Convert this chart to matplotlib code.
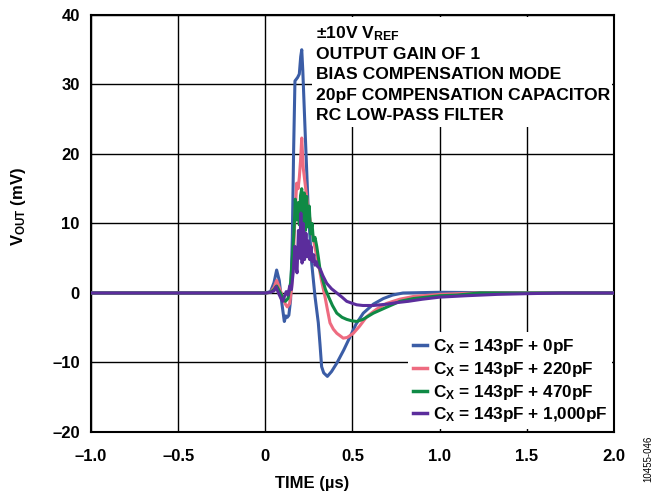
import matplotlib
matplotlib.use("Agg")
import matplotlib.pyplot as plt
from matplotlib.patches import Rectangle

plt.rcParams['font.family'] = ['Liberation Sans', 'DejaVu Sans']
plt.rcParams['font.weight'] = 'bold'
plt.rcParams['mathtext.fontset'] = 'custom'
plt.rcParams['mathtext.rm'] = 'Liberation Sans:bold'
plt.rcParams['mathtext.it'] = 'Liberation Sans:bold'
plt.rcParams['mathtext.bf'] = 'Liberation Sans:bold'

# ---- data (time in µs, VOUT in mV) ----
t_blue = [-1.0, 0.0, 0.03, 0.05, 0.065, 0.08, 0.095, 0.109, 0.118, 0.126, 0.135, 0.145, 0.155, 0.162,
          0.17, 0.185, 0.195, 0.203, 0.209, 0.215, 0.228, 0.247, 0.266, 0.285, 0.304, 0.314, 0.323,
          0.335, 0.356, 0.38, 0.41, 0.45, 0.486, 0.52, 0.562, 0.62, 0.677, 0.73, 0.79, 1.0, 1.5, 2.0]
v_blue = [0, 0, 0.2, 1.5, 3.3, 1.8, -1.5, -4.1, -3.3, -3.5, -3.2, -1.0, 8, 20,
          30.5, 31, 31.5, 34, 35, 32, 23.5, 11.5, 4.3, -0.5, -4.3, -7.5, -10.6,
          -11.5, -12, -11.3, -10.1, -8.2, -6.3, -4.5, -2.9, -1.6, -0.8, -0.3, 0, 0.1, 0, 0]

t_pink = [-1.0, 0.0, 0.03, 0.05, 0.065, 0.08, 0.1, 0.115, 0.126, 0.14, 0.15, 0.16, 0.17, 0.18, 0.188,
          0.195, 0.202, 0.209, 0.218, 0.227, 0.237, 0.25, 0.266, 0.285, 0.304, 0.322, 0.342, 0.357,
          0.371, 0.39, 0.41, 0.447, 0.47, 0.505, 0.54, 0.582, 0.64, 0.696, 0.77, 0.85, 1.0, 1.2, 2.0]
v_pink = [0, 0, 0.1, 0.8, 1.8, 0.8, -0.6, -1.6, -2.0, -1.5, 0.5, 4.3, 11, 15.8, 15,
          16.6, 19, 22.3, 17.9, 16, 13.9, 11.5, 9.1, 6.5, 4.3, 1.8, -0.5, -2.5,
          -4.3, -5.2, -5.8, -6.5, -6.4, -5.8, -4.8, -3.4, -2.3, -1.5, -0.9, -0.5, -0.2, 0, 0]

t_green = [-1.0, 0.0, 0.03, 0.05, 0.065, 0.08, 0.1, 0.115, 0.13, 0.145, 0.155, 0.165, 0.172, 0.18,
           0.188, 0.195, 0.202, 0.209, 0.216, 0.223, 0.23, 0.237, 0.245, 0.252, 0.26, 0.268, 0.276,
           0.285, 0.295, 0.305, 0.314, 0.33, 0.345, 0.362, 0.385, 0.41, 0.44, 0.467, 0.495, 0.524,
           0.56, 0.62, 0.7, 0.773, 0.85, 1.0, 1.1, 1.23, 2.0]
v_green = [0, 0, 0.1, 0.5, 1.0, 0.3, -0.6, -1.2, -0.8, 1.5, 5, 9, 13.5, 10.5,
           13, 9.8, 14, 15, 10, 14.4, 9, 13.9, 9.5, 12.5, 8.5, 10, 7.5,
           8, 6.7, 5, 3.3, 1.8, 0.5, -0.5, -1.8, -2.9, -3.5, -3.8, -4.0, -4.1,
           -3.8, -2.9, -2.0, -1.2, -0.8, -0.4, -0.3, 0, 0]

t_purple = [-1.0, 0.0, 0.03, 0.05, 0.062, 0.075, 0.09, 0.1, 0.11, 0.12, 0.13, 0.14, 0.15, 0.16, 0.17,
            0.175, 0.182, 0.19, 0.197, 0.204, 0.211, 0.218, 0.225, 0.233, 0.24, 0.247, 0.255, 0.262,
            0.27, 0.278, 0.285, 0.293, 0.3, 0.314, 0.33, 0.352, 0.38, 0.41, 0.44, 0.467, 0.5, 0.524,
            0.56, 0.62, 0.7, 0.75, 0.82, 0.9, 1.0, 1.15, 1.33, 1.5, 1.7, 2.0]
v_purple = [0, 0, 0.1, 0.3, 0.9, 0.0, -0.8, -1.2, -0.5, 0.2, -0.3, 1.0, 0.5, 3, 6.7,
            4, 2.9, 9, 5, 11.5, 4.3, 10, 4.8, 8.6, 5.2, 7.5, 4.8, 6.7,
            4.5, 5.5, 4, 4.5, 3.8, 3.5, 2.5, 1.4, 0.6, 0, -0.6, -1.2, -1.5, -1.7,
            -1.8, -1.8, -1.6, -1.4, -1.2, -0.9, -0.6, -0.4, -0.2, -0.1, 0, 0]

series_labels = ["C$_\\mathrm{X}$ = 143pF + 0pF", "C$_\\mathrm{X}$ = 143pF + 220pF",
                 "C$_\\mathrm{X}$ = 143pF + 470pF", "C$_\\mathrm{X}$ = 143pF + 1,000pF"]
series_colors = ["#3B5DA6", "#EE6B80", "#0F8A45", "#5B2D9C"]

x_ticks = [-1.0, -0.5, 0.0, 0.5, 1.0, 1.5, 2.0]
x_ticklabels = ["\u20131.0", "\u20130.5", "0", "0.5", "1.0", "1.5", "2.0"]
y_ticks = [-20, -10, 0, 10, 20, 30, 40]
y_ticklabels = ["\u201320", "\u201310", "0", "10", "20", "30", "40"]

notes = ["\u00b110V V$_\\mathrm{REF}$", "OUTPUT GAIN OF 1", "BIAS COMPENSATION MODE",
         "20pF COMPENSATION CAPACITOR", "RC LOW-PASS FILTER"]

# ---- figure ----
fig = plt.figure(figsize=(6.65, 4.91), dpi=100)
ax = fig.add_axes([0.1368, 0.1202, 0.7865, 0.8493])

for t, v, lab, c in zip([t_blue, t_pink, t_green, t_purple],
                        [v_blue, v_pink, v_green, v_purple],
                        series_labels, series_colors):
    ax.plot(t, v, color=c, lw=2.2, label=lab, zorder=3, solid_joinstyle='round')

ax.set_xlim(-1.0, 2.0)
ax.set_ylim(-20, 40)
ax.set_xticks(x_ticks)
ax.set_xticklabels(x_ticklabels)
ax.set_yticks(y_ticks)
ax.set_yticklabels(y_ticklabels)
ax.tick_params(length=0, labelsize=12)
ax.tick_params(axis='x', pad=12)
ax.tick_params(axis='y', pad=8)
ax.set_axisbelow(True)
ax.grid(True, color='black', lw=1.0)
for s in ax.spines.values():
    s.set_linewidth(1.5)

ax.set_xlabel("TIME (\u00b5s)", fontsize=12, fontweight='bold')
ax.xaxis.set_label_coords(0.423, -0.105)
ax.set_ylabel("V$_\\mathrm{OUT}$ (mV)", fontsize=12, fontweight='bold')
ax.yaxis.set_label_coords(-0.12, 0.54)

# white box behind the notes
ax.add_patch(Rectangle((0.4226, 0.731), 0.573, 0.264, transform=ax.transAxes,
                       facecolor='white', edgecolor='none', zorder=1))
ys = [0.945, 0.895, 0.847, 0.796, 0.749]
for txt, yy in zip(notes, ys):
    ax.text(0.430, yy, txt, transform=ax.transAxes, fontsize=12.6, fontweight='bold',
            ha='left', va='baseline', zorder=4)

leg = ax.legend(loc='lower right', bbox_to_anchor=(0.997, 0.006), fontsize=12.3,
                handlelength=0.8, handletextpad=0.35, labelspacing=0.22,
                borderpad=0.3, borderaxespad=0.0, frameon=True, fancybox=False)
leg.get_frame().set_facecolor('white')
leg.get_frame().set_edgecolor('none')
leg.get_frame().set_alpha(1.0)
for line in leg.get_lines():
    line.set_linewidth(2.5)

fig.text(648 / 665, 1 - 459 / 491, "10455-046", rotation=90, fontsize=7,
         fontweight='normal', ha='center', va='center')

fig.savefig("out.png", dpi=100)
